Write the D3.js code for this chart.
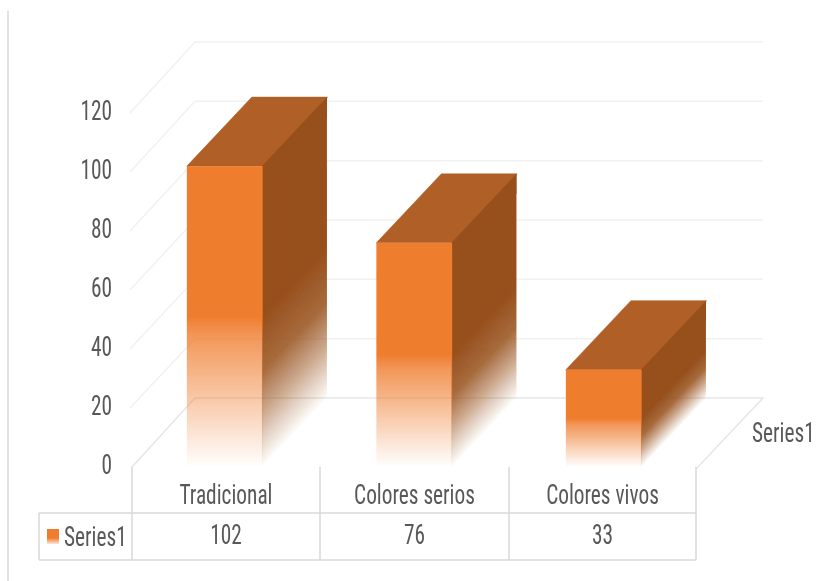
<!DOCTYPE html>
<html><head><meta charset="utf-8">
<script src="https://cdnjs.cloudflare.com/ajax/libs/d3/7.8.5/d3.min.js"></script>
<style>html,body{margin:0;padding:0;background:#fff}svg{display:block}</style>
</head><body><svg id="c" width="833" height="581"></svg>
<script>
const categories = ["Tradicional", "Colores serios", "Colores vivos"];
const values = [102, 76, 33];
const seriesName = "Series1";
const yTicks = [0, 20, 40, 60, 80, 100, 120];

const svg = d3.select("#c");
const defs = svg.append("defs");
const blur = defs.append("filter").attr("id","soft").attr("filterUnits","userSpaceOnUse")
  .attr("x",0).attr("y",0).attr("width",833).attr("height",581);
blur.append("feGaussianBlur").attr("stdDeviation",0.6);
const root = svg.append("g").attr("filter","url(#soft)");

const x = d3.scaleBand().domain(categories).range([130,698.5]).paddingInner(0.6).paddingOuter(0.3);
const y = d3.scaleLinear().domain([0,120]).range([467,113]);
const yBack = d3.scaleLinear().domain([0,120]).range([398,42]);
const dx = 65, dy = -69;
const tableEdges = [132,320,509,696];
const rowTop = 467, rowMid = 513, rowBot = 560, tableLeft = 39;

const FRONT="#ef7d2f", SIDE="#97501b", TOP="#b05f25", TXT="#595959";

function label(g, str, cx, cy, anchor){
  return g.append("text").attr("transform",`translate(${cx},${cy}) scale(0.97,1.22)`)
    .attr("text-anchor",anchor||"middle").attr("dominant-baseline","central")
    .attr("font-family","'Liberation Sans Narrow','Roboto Condensed','Liberation Sans',sans-serif")
    .attr("font-size",22).attr("fill",TXT).text(str);
}

// outer left rule
root.append("line").attr("x1",8).attr("x2",8).attr("y1",11).attr("y2",581).attr("stroke","#d9d9d9").attr("stroke-width",1.5);

// gridlines
const grid = root.append("g").attr("fill","none").attr("stroke","#f1f1f1").attr("stroke-width",1.5);
yTicks.filter(t=>t>0).forEach(t=>{
  grid.append("path").attr("d",d3.line()([[130,y(t)],[195,yBack(t)],[763,yBack(t)]]));
});
// floor
root.append("path").attr("fill","none").attr("stroke","#e6e6e6").attr("stroke-width",1.5)
  .attr("d",d3.line()([[132,y(0)],[195,yBack(0)],[763,yBack(0)],[696,y(0)+2]]));

// bar gradients
values.forEach((v,i)=>{
  const x0=x(categories[i]), w=x.bandwidth(), top=y(v), h=y(0)-top;
  const lg=defs.append("linearGradient").attr("id","f"+i).attr("x1",0).attr("x2",0).attr("y1",0).attr("y2",1);
  [[0,1],[0.5,1],[0.565,0.8],[1,0]].forEach(s=>lg.append("stop").attr("offset",s[0]).attr("stop-color",FRONT).attr("stop-opacity",s[1]));
  const len=Math.hypot(dx,dy), nx=-dy/len, ny=dx/len, proj=h*ny;
  const sx=x0+w, sg=defs.append("linearGradient").attr("id","s"+i).attr("gradientUnits","userSpaceOnUse")
    .attr("x1",sx).attr("y1",top).attr("x2",sx+nx*proj).attr("y2",top+ny*proj);
  [[0,1],[0.5,1],[0.68,0.85],[0.8,0.55],[1,0]].forEach(s=>sg.append("stop").attr("offset",s[0]).attr("stop-color",SIDE).attr("stop-opacity",s[1]));
});

// bars
const bars = root.append("g").selectAll("g").data(values).join("g");
bars.append("path").attr("fill",(d,i)=>`url(#s${i})`).attr("d",(d,i)=>{
  const r=x(categories[i])+x.bandwidth()-0.7;
  return d3.line()([[r,y(d)],[r+dx,y(d)+dy],[r+dx,y(0)+dy],[r,y(0)]])+"Z";
});
bars.append("path").attr("fill",TOP).attr("stroke",TOP).attr("stroke-width",0.5).attr("d",(d,i)=>{
  const l=x(categories[i]), r=l+x.bandwidth();
  return d3.line()([[l,y(d)],[l+dx,y(d)+dy],[r+dx,y(d)+dy],[r,y(d)]])+"Z";
});
// side again over the top face edge so the shared edge has no light seam
bars.append("path").attr("fill",SIDE).attr("d",(d,i)=>{
  const r=x(categories[i])+x.bandwidth()-0.7;
  return d3.line()([[r,y(d)],[r+dx,y(d)+dy],[r+dx,y(d)+dy+20],[r,y(d)+20]])+"Z";
});
bars.append("rect").attr("fill",(d,i)=>`url(#f${i})`)
  .attr("x",(d,i)=>x(categories[i])).attr("width",x.bandwidth())
  .attr("y",d=>y(d)).attr("height",d=>y(0)-y(d));

// y axis labels
yTicks.forEach(t=>label(root,String(t),112,y(t)-2,"end"));

// data table
const tb = root.append("g").attr("stroke","#d9d9d9").attr("stroke-width",1.5).attr("fill","none");
tableEdges.forEach(e=>tb.append("line").attr("x1",e).attr("x2",e).attr("y1",rowTop).attr("y2",rowBot));
tb.append("line").attr("x1",tableLeft).attr("x2",696).attr("y1",rowMid).attr("y2",rowMid);
tb.append("line").attr("x1",tableLeft).attr("x2",696).attr("y1",rowBot).attr("y2",rowBot);
tb.append("line").attr("x1",tableLeft).attr("x2",tableLeft).attr("y1",rowMid).attr("y2",rowBot);

categories.forEach((c,i)=>{
  const cx=(tableEdges[i]+tableEdges[i+1])/2;
  label(root,c,cx,(rowTop+rowMid)/2+5,"middle");
  label(root,String(values[i]),cx,(rowMid+rowBot)/2-1,"middle");
});

// legend key
const kg=defs.append("linearGradient").attr("id","key").attr("x1",0).attr("x2",0).attr("y1",0).attr("y2",1);
[[0,1],[0.6,1],[1,0.2]].forEach(s=>kg.append("stop").attr("offset",s[0]).attr("stop-color",FRONT).attr("stop-opacity",s[1]));
root.append("rect").attr("x",47).attr("y",529).attr("width",12).attr("height",15).attr("fill","url(#key)");
label(root,seriesName,64,537,"start");
label(root,seriesName,752,433,"start");
</script></body></html>
